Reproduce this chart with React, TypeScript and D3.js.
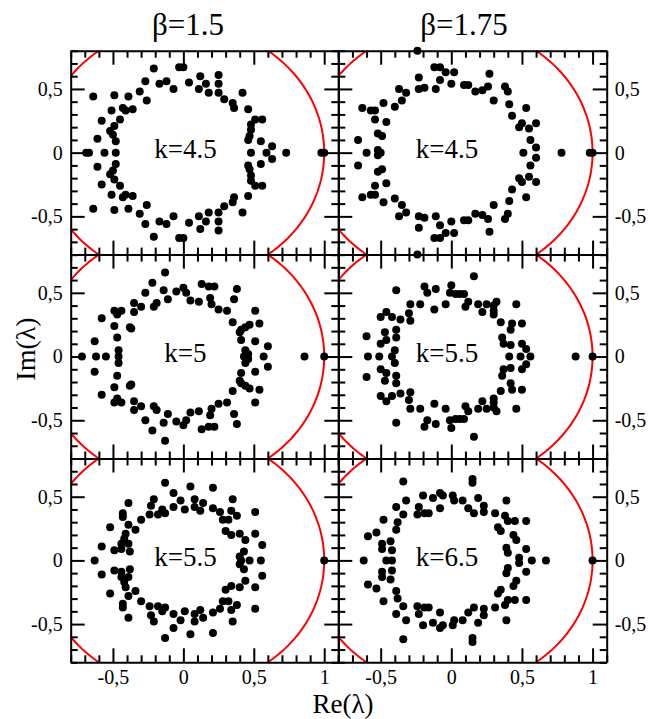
import React, { useEffect, useRef } from 'react';
import * as d3 from 'd3';

// eigenvalues [Re, Im] with Im >= 0; the ones off the real axis come in conjugate pairs
const eigB150K45 = [
  [-0.21, 0.66], [-0.03, 0.67], [0.0, 0.67], [0.12, 0.6], [0.25, 0.61], [-0.27, 0.56], [-0.17, 0.54],
  [-0.12, 0.56], [-0.07, 0.5], [0.04, 0.55], [0.11, 0.5], [0.16, 0.54], [0.25, 0.54], [0.18, 0.47],
  [0.25, 0.47], [0.29, 0.42], [0.35, 0.39], [0.36, 0.35], [0.42, 0.47], [0.46, 0.34], [-0.31, 0.48],
  [-0.26, 0.41], [-0.64, 0.44], [-0.49, 0.45], [-0.39, 0.44], [-0.51, 0.33], [-0.43, 0.35], [-0.41, 0.33],
  [-0.36, 0.34], [-0.45, 0.26], [-0.58, 0.25], [-0.49, 0.21], [-0.52, 0.17], [-0.5, 0.14], [-0.48, 0.09],
  [-0.61, 0.11], [0.51, 0.26], [0.56, 0.26], [0.48, 0.22], [0.48, 0.18], [0.47, 0.13], [0.46, 0.1],
  [0.55, 0.09], [0.63, 0.05],
  [-0.56, 0], [-0.48, 0], [-0.69, 0], [-0.67, 0], [0.48, 0], [0.59, 0], [0.73, 0], [0.98, 0], [1.0, 0],
];

const eigB175K45 = [
  [-0.24, 0.8], [-0.12, 0.67], [-0.08, 0.67], [-0.04, 0.63], [0.02, 0.63], [0.27, 0.62], [-0.23, 0.59],
  [-0.08, 0.57], [0.0, 0.54], [0.09, 0.53], [0.12, 0.53], [-0.23, 0.5], [-0.19, 0.51], [-0.11, 0.5],
  [0.17, 0.48], [0.22, 0.49], [0.26, 0.52], [0.38, 0.52], [0.4, 0.48], [-0.37, 0.5], [-0.32, 0.47],
  [-0.35, 0.41], [0.3, 0.41], [0.41, 0.38], [-0.48, 0.39], [-0.4, 0.36], [-0.63, 0.35], [-0.57, 0.33],
  [-0.54, 0.33], [0.53, 0.35], [0.43, 0.29], [-0.54, 0.26], [-0.46, 0.24], [0.5, 0.23], [0.48, 0.2],
  [0.6, 0.23], [0.55, 0.19], [-0.52, 0.15], [-0.49, 0.13], [-0.66, 0.1], [0.56, 0.1], [0.6, 0.04],
  [-0.52, 0.02],
  [0.51, 0], [-0.6, 0], [-0.5, 0], [0.78, 0], [0.98, 0], [1.0, 0],
];

const eigB150K5 = [
  [-0.13, 0.66], [-0.22, 0.58], [-0.27, 0.5], [-0.14, 0.52], [-0.11, 0.45], [-0.05, 0.51], [0.0, 0.54],
  [0.02, 0.5], [0.05, 0.44], [0.11, 0.43], [0.13, 0.57], [0.18, 0.55], [0.22, 0.55], [0.19, 0.46],
  [0.2, 0.41], [0.25, 0.37], [0.31, 0.36], [0.38, 0.53], [0.36, 0.45], [0.35, 0.27], [0.4, 0.19],
  [0.41, 0.21], [0.44, 0.23], [0.47, 0.25], [0.41, 0.13], [0.51, 0.36], [0.54, 0.26], [0.51, 0.12],
  [0.6, 0.08], [0.44, 0.05], [0.46, 0.02], [-0.58, 0.3], [-0.49, 0.36], [-0.47, 0.33], [-0.44, 0.36],
  [-0.49, 0.24], [-0.38, 0.23], [-0.37, 0.22], [-0.35, 0.42], [-0.35, 0.35], [-0.3, 0.39], [-0.21, 0.39],
  [-0.19, 0.42], [-0.47, 0.15], [-0.63, 0.12], [-0.46, 0.05],
  [0.43, 0], [0.57, 0], [0.86, 0], [1.0, 0], [-0.72, 0], [-0.62, 0], [-0.55, 0], [-0.46, 0],
];

const eigB175K55 = [
  [0.16, 0.63], [0.0, 0.56], [-0.19, 0.55], [-0.17, 0.5], [-0.11, 0.53], [-0.39, 0.52], [-0.01, 0.5],
  [0.03, 0.49], [0.06, 0.49], [0.09, 0.49], [0.12, 0.43], [0.1, 0.39], [0.19, 0.41], [0.25, 0.41],
  [0.22, 0.35], [0.3, 0.4], [0.32, 0.43], [0.3, 0.36], [0.3, 0.33], [0.46, 0.41], [-0.04, 0.41],
  [-0.12, 0.37], [-0.22, 0.41], [-0.29, 0.41], [-0.3, 0.34], [-0.29, 0.28], [-0.36, 0.29], [-0.46, 0.35],
  [-0.5, 0.31], [-0.42, 0.31], [-0.47, 0.19], [-0.46, 0.13], [-0.39, 0.21], [-0.39, 0.15], [-0.5, 0.1],
  [-0.6, 0.16], [0.35, 0.27], [0.43, 0.26], [0.42, 0.21], [0.5, 0.26], [0.36, 0.15], [0.37, 0.1],
  [0.42, 0.09], [0.5, 0.1], [0.53, 0.06], [-0.4, 0.05],
  [0.56, 0], [0.49, 0], [0.41, 0], [-0.59, 0], [-0.51, 0], [-0.42, 0], [0.88, 0], [1.0, 0],
];

const eigB150K55 = [
  [-0.13, 0.61], [0.05, 0.58], [0.21, 0.57], [-0.07, 0.53], [-0.02, 0.47], [-0.07, 0.42], [0.01, 0.4],
  [0.08, 0.48], [0.14, 0.45], [0.08, 0.42], [0.12, 0.39], [0.21, 0.41], [0.26, 0.38], [0.28, 0.32],
  [0.32, 0.32], [0.34, 0.39], [0.35, 0.48], [0.38, 0.35], [0.51, 0.38], [0.3, 0.23], [0.34, 0.2],
  [0.4, 0.21], [0.44, 0.16], [0.51, 0.21], [0.56, 0.12], [0.43, 0.07], [0.4, 0.03], [-0.21, 0.48],
  [-0.23, 0.43], [-0.24, 0.36], [-0.18, 0.36], [-0.15, 0.4], [-0.13, 0.37], [-0.3, 0.32], [-0.34, 0.24],
  [-0.39, 0.45], [-0.43, 0.37], [-0.43, 0.34], [-0.39, 0.28], [-0.41, 0.21], [-0.42, 0.17], [-0.44, 0.13],
  [-0.44, 0.09], [-0.49, 0.08], [-0.52, 0.26], [-0.58, 0.11], [-0.39, 0.13], [-0.38, 0.07],
  [0.41, 0], [0.47, 0], [0.55, 0], [1.0, 0], [-0.63, 0],
];

const eigB175K65 = [
  [0.15, 0.64], [0.15, 0.61], [-0.34, 0.62], [-0.2, 0.51], [-0.13, 0.49], [-0.08, 0.53], [-0.06, 0.51],
  [0.01, 0.51], [0.02, 0.47], [0.08, 0.47], [0.19, 0.49], [0.23, 0.43], [0.23, 0.38], [0.12, 0.41],
  [0.16, 0.37], [0.39, 0.47], [0.31, 0.37], [0.38, 0.35], [0.4, 0.31], [0.45, 0.31], [0.53, 0.31],
  [0.33, 0.26], [0.35, 0.23], [0.44, 0.2], [0.46, 0.16], [0.53, 0.09], [0.39, 0.1], [0.4, 0.06],
  [0.48, 0.02], [-0.32, 0.47], [-0.39, 0.42], [-0.23, 0.42], [-0.24, 0.36], [-0.19, 0.37], [-0.16, 0.37],
  [-0.08, 0.41], [-0.34, 0.36], [-0.38, 0.3], [-0.48, 0.32], [-0.39, 0.24], [-0.53, 0.22], [-0.59, 0.19],
  [-0.49, 0.13], [-0.49, 0.09], [-0.43, 0.15], [-0.42, 0.08],
  [0.57, 0], [0.67, 0], [1.0, 0], [-0.46, 0], [-0.42, 0], [-0.62, 0],
];

const betaLabels = ['β=1.5', 'β=1.75'];
const kLabels = ['k=4.5', 'k=4.5', 'k=5', 'k=5.5', 'k=5.5', 'k=6.5'];
const xMajor = [-0.5, 0, 0.5, 1];
const xMajorLabels = ['-0,5', '0', '0,5', '1'];
const yMajor = [-0.5, 0, 0.5];
const yMajorLabels = ['-0,5', '0', '0,5'];

const panelData = [eigB150K45, eigB175K45, eigB150K5, eigB175K55, eigB150K55, eigB175K65];

const colX = [70.7, 338.3, 606.7];
const rowY = [50.7, 254.6, 458.5, 662.3];
const font = '"Liberation Serif", "Times New Roman", serif';

const withConjugates = (pts) =>
  pts.flatMap(([re, im]) => (im === 0 ? [[re, 0]] : [[re, im], [re, -im]]));

export default function App() {
  const ref = useRef(null);

  useEffect(() => {
    const svg = d3.select(ref.current);
    svg.selectAll('*').remove();
    const defs = svg.append('defs');

    const xMinor = d3.range(-8, 12).map((v) => v / 10).filter((v) => !xMajor.some((m) => Math.abs(m - v) < 1e-9));
    const yMinor = d3.range(-8, 9).map((v) => v / 10).filter((v) => !yMajor.some((m) => Math.abs(m - v) < 1e-9));
    const unitCircle = d3.range(0, 361, 2).map((a) => [Math.cos((a * Math.PI) / 180), Math.sin((a * Math.PI) / 180)]);

    panelData.forEach((pts, i) => {
      const col = i % 2;
      const row = Math.floor(i / 2);
      const x = d3.scaleLinear().domain([-0.8, 1.1]).range([colX[col], colX[col + 1]]);
      const y = d3.scaleLinear().domain([-0.8, 0.8]).range([rowY[row + 1], rowY[row]]);
      const g = svg.append('g');

      const clipId = `clip-${i}`;
      defs.append('clipPath').attr('id', clipId)
        .append('rect')
        .attr('x', colX[col]).attr('y', rowY[row])
        .attr('width', colX[col + 1] - colX[col]).attr('height', rowY[row + 1] - rowY[row]);

      // unit circle
      const line = d3.line().x((d) => x(d[0])).y((d) => y(d[1]));
      g.append('path')
        .attr('d', line(unitCircle))
        .attr('fill', 'none')
        .attr('stroke', '#ff0000')
        .attr('stroke-width', 2)
        .attr('clip-path', `url(#${clipId})`);

      // ticks on all four sides, pointing inward
      const makeAxis = (k) =>
        k === 0 ? d3.axisBottom(x) : k === 1 ? d3.axisTop(x) : k === 2 ? d3.axisLeft(y) : d3.axisRight(y);
      const sides = [
        { t: `translate(0,${rowY[row + 1]})`, major: xMajor, minor: xMinor, lab: row === 2 ? xMajorLabels : null },
        { t: `translate(0,${rowY[row]})`, major: xMajor, minor: xMinor, lab: null },
        { t: `translate(${colX[col]},0)`, major: yMajor, minor: yMinor, lab: col === 0 ? yMajorLabels : null },
        { t: `translate(${colX[col + 1]},0)`, major: yMajor, minor: yMinor, lab: col === 1 ? yMajorLabels : null },
      ];
      sides.forEach((s, k) => {
        g.append('g')
          .attr('transform', s.t)
          .call(makeAxis(k).tickValues(s.minor).tickSizeInner(-7).tickSizeOuter(0).tickFormat(() => ''))
          .call((ax) => ax.select('.domain').remove())
          .selectAll('line').attr('stroke-width', 2);
        const major = g.append('g')
          .attr('transform', s.t)
          .call(
            makeAxis(k).tickValues(s.major).tickSizeInner(-14).tickSizeOuter(0)
              .tickPadding(8)
              .tickFormat((d, j) => (s.lab ? s.lab[j] : ''))
          );
        major.attr('font-family', font).attr('font-size', 20);
        major.selectAll('line').attr('stroke-width', 2);
        major.select('.domain').attr('stroke-width', 2);
      });

      // eigenvalues
      g.append('g')
        .selectAll('circle')
        .data(withConjugates(pts))
        .enter()
        .append('circle')
        .attr('cx', (d) => x(d[0]))
        .attr('cy', (d) => y(d[1]))
        .attr('r', 4)
        .attr('fill', '#000');

      g.append('text')
        .attr('x', x(col === 0 ? 0.015 : -0.03))
        .attr('y', y(0) + 5.5)
        .attr('text-anchor', 'middle')
        .attr('font-family', font)
        .attr('font-size', 27)
        .text(kLabels[i]);
    });

    svg.selectAll('.title')
      .data(betaLabels)
      .enter()
      .append('text')
      .attr('x', (d, i) => [188, 464][i])
      .attr('y', 35)
      .attr('text-anchor', 'middle')
      .attr('font-family', font)
      .attr('font-size', 31)
      .text((d) => d);

    svg.append('text')
      .attr('x', 343)
      .attr('y', 713)
      .attr('text-anchor', 'middle')
      .attr('font-family', font)
      .attr('font-size', 27)
      .text('Re(λ)');

    svg.append('text')
      .attr('transform', 'translate(35,349) rotate(-90)')
      .attr('text-anchor', 'middle')
      .attr('font-family', font)
      .attr('font-size', 28)
      .text('Im(λ)');
  }, []);

  return (
    <svg
      ref={ref}
      width={648}
      height={719}
      style={{ position: 'absolute', left: 0, top: 0, background: '#fff' }}
    />
  );
}
